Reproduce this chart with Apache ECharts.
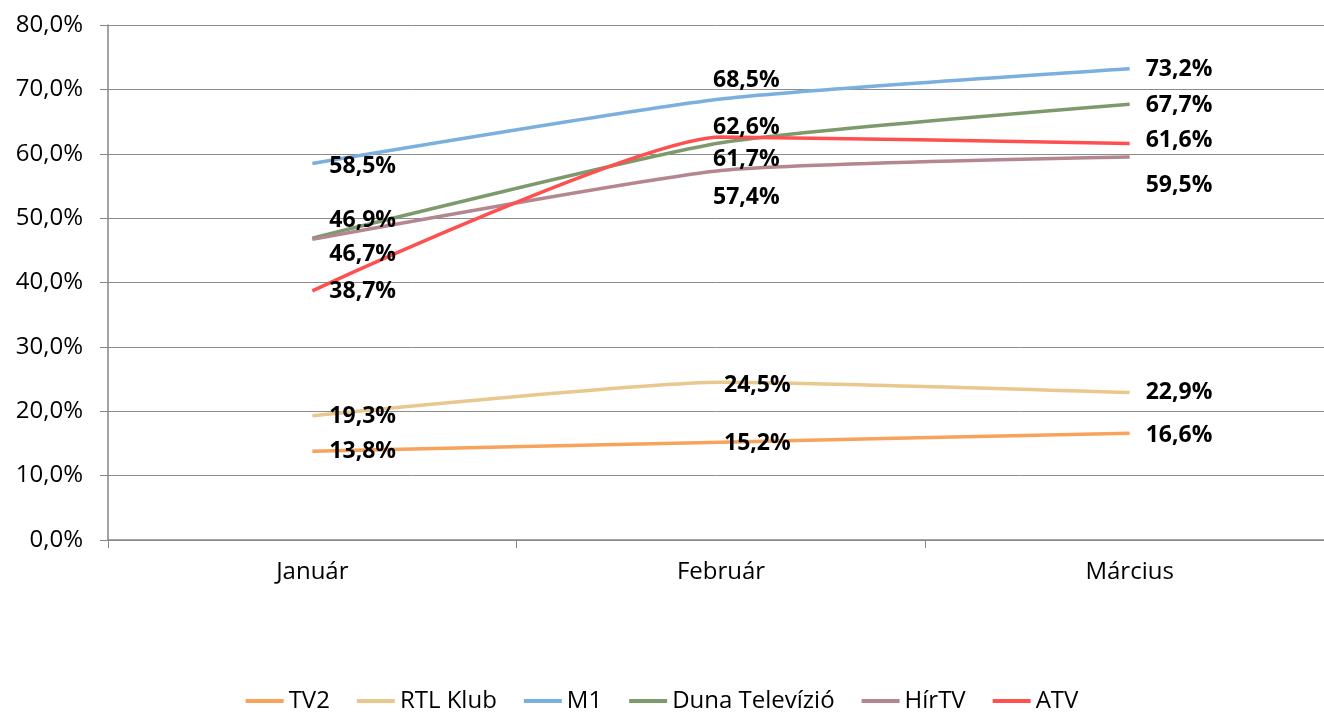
<!DOCTYPE html>
<html>
<head>
<meta charset="utf-8">
<script src="https://cdn.jsdelivr.net/npm/echarts@6/dist/echarts.min.js"></script>
<style>
  html, body { margin: 0; padding: 0; background: #fff; }
  #chart { width: 1324px; height: 713px; }
</style>
</head>
<body>
<div id="chart"></div>
<script>
// hónapok
var months = ['Január', 'Február', 'Március'];
var seriesNames = ['TV2', 'RTL Klub', 'M1', 'Duna Televízió', 'HírTV', 'ATV'];

// értékek (%)
var tv2 = [13.8, 15.2, 16.6];
var rtl = [19.3, 24.5, 22.9];
var m1 = [58.5, 68.5, 73.2];
var duna = [46.9, 61.7, 67.7];
var hirtv = [46.7, 57.4, 59.5];
var atv = [38.7, 62.6, 61.6];

var yTicks = [0, 10, 20, 30, 40, 50, 60, 70, 80];

var colors = ['#F7A35C', '#E8C88E', '#7BAFDE', '#7D9A6D', '#B48790', '#FF5050'];

// címkék eltolása (dx, dy) pontonként
var labelShift = [
  [[17, 0], [3, 1], [16, 2]],
  [[17, 1], [3, 3], [16, 0]],
  [[17, 3], [-8, -19], [16, 1]],
  [[17, -18], [-8, 17], [16, 1]],
  [[17, 15], [-8, 27], [16, 28]],
  [[17, 1], [-8, -10], [16, -3]]
];

var allValues = [tv2, rtl, m1, duna, hirtv, atv];

function pct(v) {
  return v.toFixed(1).replace('.', ',') + '%';
}

var series = allValues.map(function (vals, i) {
  return {
    name: seriesNames[i],
    type: 'line',
    smooth: 0.18,
    symbol: 'circle',
    symbolSize: 0,
    showSymbol: true,
    lineStyle: { width: 3.5, color: colors[i] },
    itemStyle: { color: colors[i] },
    label: {
      show: true,
      position: 'right',
      distance: 0,
      color: '#000',
      fontWeight: 'bold',
      fontSize: 23,
      fontFamily: 'Open Sans',
      formatter: function (p) { return pct(p.value); }
    },
    data: vals.map(function (v, j) {
      return { value: v, label: { offset: labelShift[i][j] } };
    })
  };
});

var chart = echarts.init(document.getElementById('chart'));
chart.setOption({
  animation: false,
  color: colors,
  grid: { left: 108, right: -10, top: 25, bottom: 173, outerBoundsMode: 'none' },
  legend: {
    bottom: -5,
    left: 'center',
    icon: 'rect',
    itemWidth: 38,
    itemHeight: 4,
    itemGap: 27,
    data: seriesNames,
    textStyle: { fontSize: 24, color: '#000', fontFamily: 'Open Sans' }
  },
  xAxis: {
    type: 'category',
    data: months,
    boundaryGap: true,
    axisLine: { lineStyle: { color: '#868686', width: 1.5 } },
    axisTick: { show: true, length: 8, lineStyle: { color: '#868686' } },
    axisLabel: { fontSize: 24, color: '#000', fontFamily: 'Open Sans', margin: 20 }
  },
  yAxis: {
    type: 'value',
    min: yTicks[0],
    max: yTicks[yTicks.length - 1],
    interval: 10,
    axisLine: { show: true, lineStyle: { color: '#868686', width: 1.5 } },
    axisTick: { show: true, length: 8, inside: false, lineStyle: { color: '#868686' } },
    splitLine: { lineStyle: { color: '#8c8c8c', width: 1 } },
    axisLabel: {
      fontSize: 24, color: '#000', fontFamily: 'Open Sans', margin: 25,
      formatter: function (v) { return pct(v); }
    }
  },
  series: series
});
</script>
</body>
</html>
